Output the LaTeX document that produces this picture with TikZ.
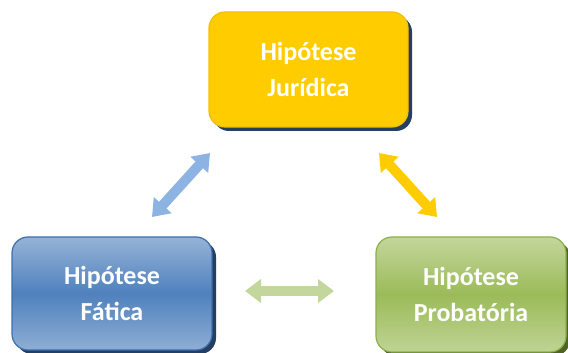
\documentclass[tikz,border=0pt]{standalone}
\usepackage{fontspec}
\setmainfont{Carlito}
\usetikzlibrary{arrows.meta,shadows}
\definecolor{jury}{HTML}{FFCC00}
\definecolor{juryline}{HTML}{F2C000}
\definecolor{navyshadow}{HTML}{243F60}
\definecolor{greenshadow}{HTML}{4F6228}
\definecolor{bluetop}{HTML}{95B3D7}
\definecolor{bluemid}{HTML}{4F81BD}
\definecolor{blueline}{HTML}{3F6FAE}
\definecolor{greentop}{HTML}{C3D69B}
\definecolor{greenmid}{HTML}{9BBB59}
\definecolor{greenline}{HTML}{8DB04A}
\definecolor{bluearrow}{HTML}{8DB3E2}
\definecolor{greenarrow}{HTML}{C3D69B}
\tikzset{
  hbox/.style={rounded corners=16pt, inner sep=0pt, align=center, text=white,
    font=\bfseries\fontsize{26}{36}\selectfont, line width=1.2pt},
  fatarrow/.style={line width=10pt, {Triangle[width=23pt,length=16pt]}-{Triangle[width=23pt,length=16pt]}},
}
\begin{document}
\begin{tikzpicture}[x=1pt,y=1pt]
\useasboundingbox (0,0) rectangle (568,353);
\node[hbox, minimum width=199pt, minimum height=115pt, fill=jury, draw=juryline,
  general shadow={fill=navyshadow, shadow xshift=4pt, shadow yshift=-4pt}]
  (tj) at (308.5,283.5) {Hipótese\\Jurídica};
\node[hbox, minimum width=200pt, minimum height=113pt, draw=blueline,
  top color=bluetop, bottom color=bluetop!90!bluemid, middle color=bluemid,
  general shadow={fill=navyshadow, shadow xshift=4pt, shadow yshift=-4pt}]
  (fa) at (112,59.5) {Hipótese\\Fática};
\node[hbox, minimum width=190pt, minimum height=115pt, draw=greenline,
  top color=greentop, bottom color=greentop!90!greenmid, middle color=greenmid,
  general shadow={fill=greenshadow, shadow xshift=4pt, shadow yshift=-4pt}]
  (pr) at (471,58.5) {Hipótese\\Probatória};
\coordinate (b1) at (152,136);
\coordinate (b2) at (210,200);
\coordinate (y1) at (379,200);
\coordinate (y2) at (437,136);
\coordinate (g1) at (245,62);
\coordinate (g2) at (334,62);
\draw[fatarrow, bluearrow] (b1) -- (b2);
\draw[fatarrow, jury] (y1) -- (y2);
\draw[fatarrow, greenarrow] (g1) -- (g2);
\end{tikzpicture}
\end{document}
